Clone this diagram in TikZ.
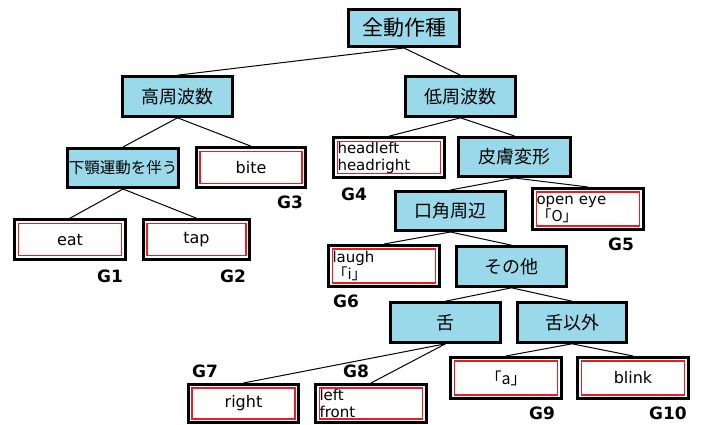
\documentclass[tikz,border=0pt]{standalone}
\usepackage{fontspec}
\setmainfont{DejaVu Sans}
\newfontfamily\jp{Noto Sans CJK JP}
\definecolor{boxblue}{RGB}{153,217,234}
\definecolor{leafred}{RGB}{237,28,36}
\begin{document}
\begin{tikzpicture}[x=1pt,y=-1pt,
  catbox/.style={fill=boxblue, draw=black, line width=2.6pt, inner sep=0pt,
    minimum width=111pt, minimum height=40pt, font=\jp\fontsize{18}{21}\selectfont},
  leafbox/.style={draw=black, fill=white, line width=2.6pt, inner sep=0pt,
    minimum width=111pt, minimum height=40pt, font=\fontsize{16}{19}\selectfont},
  multibox/.style={leafbox, align=left, text width=103pt, font=\fontsize{15}{17}\selectfont},
  redline/.style={draw=leafred, line width=1.5pt},
  glab/.style={inner sep=0pt, font=\bfseries\fontsize{17}{20}\selectfont},
  conn/.style={line width=1pt, draw=black}]
\useasboundingbox (0,0) rectangle (701,425);

% category boxes
\node[catbox, minimum height=37.4pt, font=\jp\fontsize{21}{24}\selectfont] (root) at (404,28) {全動作種};
\node[catbox, minimum width=110.4pt] (hi) at (177.5,96.5) {高周波数};
\node[catbox, minimum width=110.4pt] (lo) at (460.5,96.5) {低周波数};
\node[catbox, minimum height=39.4pt, font=\jp\fontsize{15.5}{18}\selectfont] (jaw) at (123,168) {下顎運動を伴う};
\node[catbox, minimum width=112.4pt, minimum height=39.4pt] (skin) at (514.5,157) {皮膚変形};
\node[catbox, minimum width=110.4pt, minimum height=39.4pt] (mouth) at (450.5,211) {口角周辺};
\node[catbox, minimum width=110.4pt] (other) at (511.5,266.5) {その他};
\node[catbox, minimum width=110.4pt] (tongue) at (445.5,322.5) {舌};
\node[catbox, minimum width=109.4pt] (nont) at (572,322.5) {舌以外};

% leaf boxes
\node[leafbox, minimum width=109.4pt] (bite) at (251,167.5) {\raisebox{-3pt}{bite}};
\node[leafbox] (eat) at (70,239.5) {eat};
\node[leafbox, minimum width=106.4pt] (tap) at (196.5,239.5) {tap};
\node[multibox] (head) at (389,157.5) {headleft\\headright};
\node[multibox, minimum height=41.4pt] (open) at (588,209) {open eye\\{\jp 「O」}};
\node[multibox, minimum height=41.4pt] (laugh) at (384,266) {laugh\\{\jp 「i」}};
\node[leafbox, minimum width=110.4pt, minimum height=38.4pt] (right) at (243.5,403.5) {right};
\node[multibox, minimum height=38.4pt] (lf) at (371,403.5) {left\\front};
\node[leafbox, minimum height=41.4pt, font=\jp\fontsize{16}{19}\selectfont] (a) at (506,378) {「a」};
\node[leafbox, minimum height=41.4pt] (blink) at (633,378) {blink};

% inner red frames of the leaf boxes
\foreach \n in {bite,eat,tap,head,open,laugh,right,lf,a,blink}
  \draw[redline] ([shift={(5.2pt,-5.2pt)}]\n.north west) rectangle ([shift={(-5.2pt,5.2pt)}]\n.south east);

% connectors
\draw[conn] (root.south) -- (hi.north);
\draw[conn] (root.south) -- (lo.north);
\draw[conn] (hi.south) -- (jaw.north);
\draw[conn] (hi.south) -- (bite.north);
\draw[conn] (jaw.south) -- (eat.north);
\draw[conn] (jaw.south) -- (tap.north);
\draw[conn] (lo.south) -- (head.north);
\draw[conn] (lo.south) -- (skin.north);
\draw[conn] (skin.south) -- (mouth.north);
\draw[conn] (skin.south) -- (open.north);
\draw[conn] (mouth.south) -- (laugh.north);
\draw[conn] (mouth.south) -- (other.north);
\draw[conn] (other.south) -- (tongue.north);
\draw[conn] (other.south) -- (nont.north);
\draw[conn] (tongue.south) -- (right.north);
\draw[conn] (tongue.south) -- (lf.north);
\draw[conn] (nont.south) -- (a.north);
\draw[conn] (nont.south) -- (blink.north);

% group labels
\node[glab] (g1) at (110,276) {G1};
\node[glab] (g2) at (233,276) {G2};
\node[glab] (g3) at (290,202) {G3};
\node[glab] (g4) at (354,194) {G4};
\node[glab] (g5) at (621,244) {G5};
\node[glab] (g6) at (346,301) {G6};
\node[glab] (g7) at (205,371) {G7};
\node[glab] (g8) at (356,371) {G8};
\node[glab] (g9) at (542,413) {G9};
\node[glab] (g10) at (668,413) {G10};
\end{tikzpicture}
\end{document}
